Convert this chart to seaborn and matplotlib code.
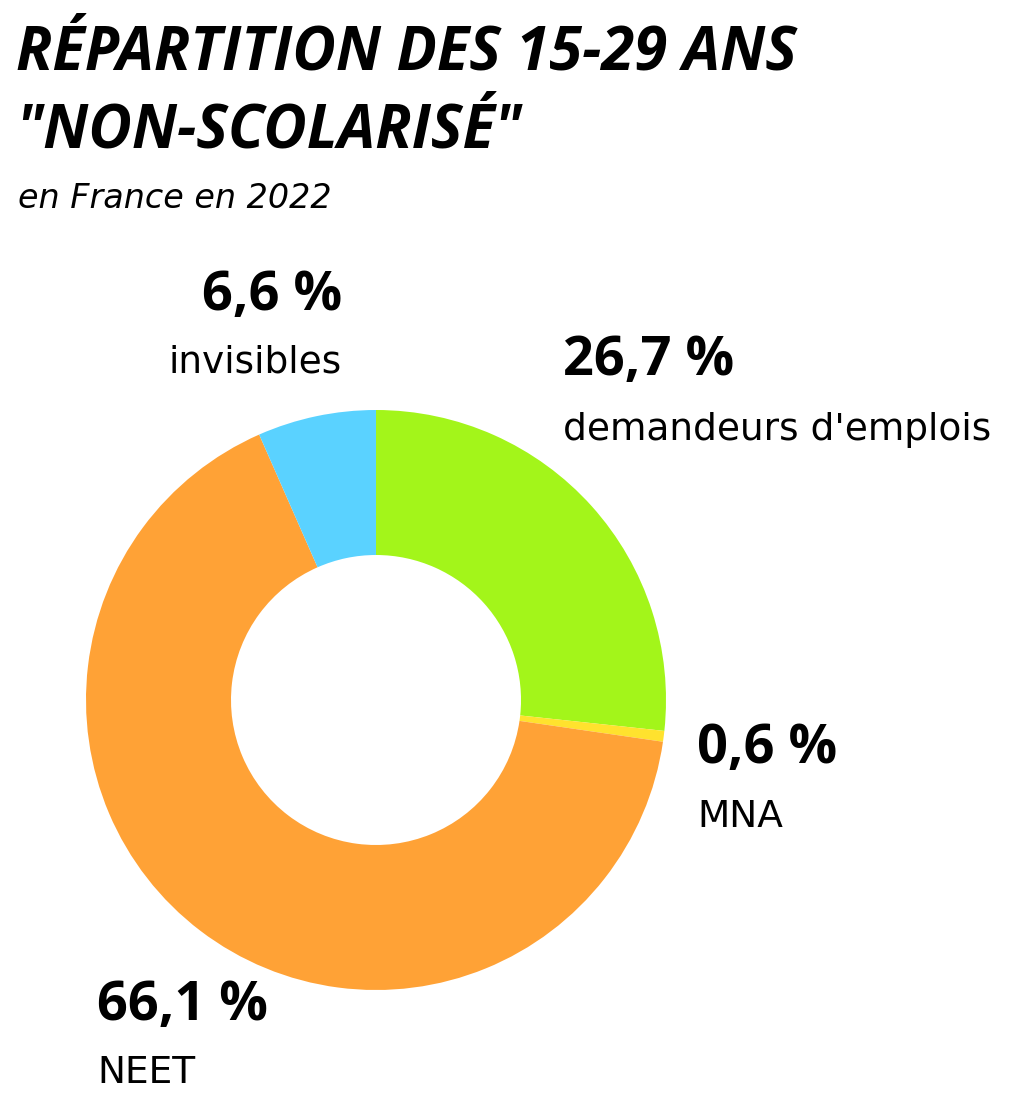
import matplotlib
matplotlib.use("Agg")
from matplotlib import pyplot as plt
import seaborn as sns

labels = ["demandeurs d'emplois", "MNA", "NEET", "invisibles"]
values = [26.7, 0.6, 66.1, 6.6]
pct_text = ["26,7 %", "0,6 %", "66,1 %", "6,6 %"]
colors = ["#A3F51A", "#FFE22E", "#FFA236", "#5AD2FF"]

sns.set_theme(style="white")
plt.rcParams["font.family"] = ["Open Sans", "DejaVu Sans"]
plt.rcParams["text.color"] = "black"

W, H = 1031, 1102
fig = plt.figure(figsize=(W / 100, H / 100), dpi=100)
fig.patch.set_facecolor("white")


def px(x, y):
    return x / W, 1 - y / H


# donut axes: center (376, 700), radius 290 px
cx, cy, r = 376, 700, 290
ax = fig.add_axes([(cx - r) / W, 1 - (cy + r) / H, 2 * r / W, 2 * r / H])
ax.pie(values, colors=colors, startangle=90, counterclock=False,
       radius=1, wedgeprops=dict(width=0.5, linewidth=0))
ax.set_xlim(-1, 1)
ax.set_ylim(-1, 1)
ax.set_aspect("equal")
ax.axis("off")

# titles
fig.text(*px(16, 70), "RÉPARTITION DES 15-29 ANS", fontsize=43,
         fontweight="bold", fontstyle="italic", ha="left", va="baseline")
fig.text(*px(16, 147), "\"NON-SCOLARISÉ\"", fontsize=43,
         fontweight="bold", fontstyle="italic", ha="left", va="baseline")
fig.text(*px(18, 208), "en France en 2022", fontsize=24, family="DejaVu Sans",
         fontstyle="italic", ha="left", va="baseline")

# labels
label_pos = {
    "invisibles": (342, 310, 373, "right"),
    "demandeurs d'emplois": (563, 375, 440, "left"),
    "MNA": (697, 763, 827, "left"),
    "NEET": (97, 1020, 1083, "left"),
}
for lab, pct in zip(labels, pct_text):
    x, y1, y2, ha = label_pos[lab]
    fig.text(*px(x, y1), pct, fontsize=39, fontweight="bold",
             ha=ha, va="baseline")
    fig.text(*px(x, y2), lab, fontsize=27, family="DejaVu Sans",
             ha=ha, va="baseline")

fig.savefig("out.png", dpi=100, facecolor="white")
